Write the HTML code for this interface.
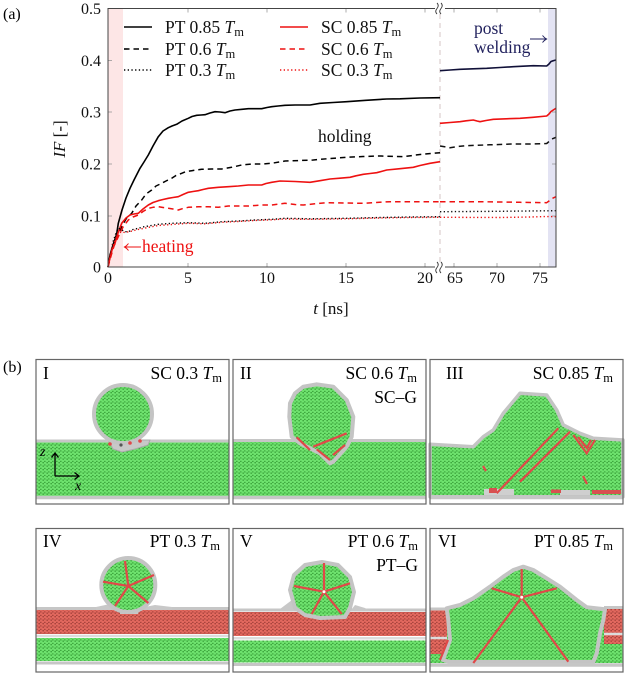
<!DOCTYPE html>
<html><head><meta charset="utf-8"><style>
html,body{margin:0;padding:0;background:#fff;}
svg{display:block;font-family:"Liberation Serif",serif;}
</style></head><body>
<svg width="625" height="675" viewBox="0 0 625 675" xmlns="http://www.w3.org/2000/svg">
<defs>
<pattern id="gp" width="4" height="3.5" patternUnits="userSpaceOnUse">
<rect width="4" height="3.5" fill="#3fa83f"/>
<circle cx="1" cy="0.9" r="1.45" fill="#6ee26e"/>
<circle cx="3" cy="2.65" r="1.45" fill="#6ee26e"/>
</pattern>
<pattern id="rp" width="4" height="3.5" patternUnits="userSpaceOnUse">
<rect width="4" height="3.5" fill="#a9443e"/>
<circle cx="1" cy="0.9" r="1.45" fill="#e2685e"/>
<circle cx="3" cy="2.65" r="1.45" fill="#e2685e"/>
</pattern>
</defs>

<!-- ========== (a) chart ========== -->
<text x="3" y="19" font-size="16">(a)</text>
<rect x="108" y="8.5" width="15" height="258.5" fill="#fde6e6"/>
<rect x="548" y="8.5" width="8" height="258.5" fill="#e3e3f3"/>
<line x1="440" y1="14" x2="440" y2="262" stroke="#d4c6c6" stroke-width="1" stroke-dasharray="5,4"/>

<!-- ticks -->
<g stroke="#999" stroke-width="0.8">
<line x1="188" y1="267" x2="188" y2="263"/><line x1="267" y1="267" x2="267" y2="263"/><line x1="346" y1="267" x2="346" y2="263"/><line x1="425" y1="267" x2="425" y2="263"/>
<line x1="454" y1="267" x2="454" y2="263"/><line x1="497" y1="267" x2="497" y2="263"/><line x1="540" y1="267" x2="540" y2="263"/>
<line x1="188" y1="8.5" x2="188" y2="12.5"/><line x1="267" y1="8.5" x2="267" y2="12.5"/><line x1="346" y1="8.5" x2="346" y2="12.5"/><line x1="425" y1="8.5" x2="425" y2="12.5"/>
<line x1="454" y1="8.5" x2="454" y2="12.5"/><line x1="497" y1="8.5" x2="497" y2="12.5"/><line x1="540" y1="8.5" x2="540" y2="12.5"/>
<line x1="108" y1="216" x2="112" y2="216"/><line x1="108" y1="164" x2="112" y2="164"/><line x1="108" y1="112" x2="112" y2="112"/><line x1="108" y1="60.5" x2="112" y2="60.5"/>
<line x1="556" y1="216" x2="552" y2="216"/><line x1="556" y1="164" x2="552" y2="164"/><line x1="556" y1="112" x2="552" y2="112"/><line x1="556" y1="60.5" x2="552" y2="60.5"/>
</g>

<!-- curves -->
<g fill="none" stroke-linejoin="round" stroke-linecap="butt">
<polyline stroke="#000" stroke-width="1.6" points="108,267 110,255 113,245 116.7,234 118.3,223.3 122,210 126,198 130,188.3 134,180 140,168.3 144,162 148.3,155 153,146 158.3,136.7 163,131 168.3,127.7 172,126 176.7,124.3 182,121 188.3,118.3 192,116.5 196.7,115.3 201,115 205,114.7 210,113 215,111.7 220,112 225,112.7 230,111 235,110 242,109.3 248.3,108.7 255,108.7 261.7,108.7 267,107.5 271.7,106.7 278,106 285,105.3 295,105 310,105 320,103.3 333,102.5 346.7,101.7 366,100.3 386.7,99 400,98.8 420,98 440,97.7"/>
<polyline stroke="#101038" stroke-width="1.6" points="440,70.7 450,70 460,69.3 473,68.8 486.7,68.3 500,67.5 513.3,66.7 523,66.2 533.3,65.7 546.7,66 549,64 551,61.5 554,60.5 556,60"/>
<polyline stroke="#000" stroke-width="1.5" stroke-dasharray="5.5,4" points="108,267 111,252 115,240 121.7,226.7 126,219 131.7,213.3 136,206 141.7,200 146,194 151.7,190 156,186 161.7,183.3 166,181 171.7,178.3 176,175.5 181.7,173.3 186,171.5 191.7,170.7 196,170 201.7,169.3 211.7,169 221.7,169 231.7,167.3 241.7,165 251.7,164 261.7,164 271.7,163.3 285,161 300,160.5 313.3,160 330,158.5 346.7,157.3 363,156.5 380,156 403.3,156.7 420,154.5 440,152.7"/>
<polyline stroke="#111" stroke-width="1.5" stroke-dasharray="5.5,4" points="440,146 450,147.7 458,146.5 466.7,145.7 490,144.8 513.3,144 530,144 546.7,143.5 549,141.5 552,139 556,137.3"/>
<polyline stroke="#ee1111" stroke-width="1.6" points="108,267 110,258 112,250 115,243.3 118,233 121.7,223.3 126,218 130,215 134,214 138.3,213.3 143,209 148.3,205 153,202.5 158.3,200.7 163,199.5 168.3,198.3 173,197.5 178.3,196.7 183,194.5 188.3,192.3 193,191.5 198.3,190.7 203,189.5 208.3,188.3 218.3,187.3 228.3,186.7 238.3,186 248.3,185 255,185 261.7,185 266,183.5 271.7,182.3 280,181 295,181.5 310,182.3 320,180.7 330,179 340,178.2 350,177.3 356,175.8 363.3,174.3 370,173.5 376.7,172.7 386.7,170 400,168.7 413.3,167.3 420,165.5 430,163.3 440,161.7"/>
<polyline stroke="#ee1111" stroke-width="1.6" points="440,123.3 450,122.5 460,121.7 466,120.8 473.3,120 477,121 480,121.7 486,120.5 493.3,119.3 506,118.8 520,118.3 533,117.3 546.7,116 549,114 551,111.5 554,109.5 556,108.3"/>
<polyline stroke="#ee1111" stroke-width="1.5" stroke-dasharray="5.5,4" points="108,267 111,256 114,246 118.3,236.7 123,227 128.3,220 133,217 138.3,215 143,211.5 148.3,208.3 153,207.3 158.3,206.7 163,207.5 168.3,208.3 173,209 178.3,210 183,208.5 188.3,207.3 198.3,206.7 208.3,206.7 218.3,207.3 228.3,206 248.3,206 261.7,205 271.7,205 285,203.3 295,204.5 303.3,205 315,203.8 326.7,202.7 345,203 363.3,203.3 375,202.5 390,201.7 440,201.7"/>
<polyline stroke="#ee1111" stroke-width="1.5" stroke-dasharray="5.5,4" points="440,201.7 480,201.7 500,202 520,202.3 546.7,202.7 549,201 552,198.5 556,196.7"/>
<polyline stroke="#000" stroke-width="1.4" stroke-dasharray="1.3,2.4" points="108,267 110,256 113,242 116,233 118.3,228.3 122,230 125,231.7 128.3,231.7 133,229.5 138.3,228.3 143,227 148.3,226 158.3,224.3 171.7,223.3 188.3,222.7 205,223.3 221.7,221.7 238.3,221 255,220 271.7,219.3 285,218.3 310,218.8 346.7,218.3 380,217.5 410,217 440,216.7"/>
<polyline stroke="#111" stroke-width="1.4" stroke-dasharray="1.3,2.4" points="440,211.7 500,211.3 556,210.7"/>
<polyline stroke="#ee1111" stroke-width="1.4" stroke-dasharray="1.3,2.4" points="108,267 110,257 112,248 115,240 118,234 121,232 125,232.5 130,231.5 138,229.5 148,227.5 158,225.5 172,224.5 188,223.3 205,223.8 222,222.3 238,221.5 255,220.5 272,219.8 285,219 310,219.3 346.7,218.8 380,218 410,217.5 440,217.3"/>
<polyline stroke="#ee1111" stroke-width="1.4" stroke-dasharray="1.3,2.4" points="440,217.3 500,217.5 530,217 546,216.5 556,216.7"/>
</g>

<!-- frame -->
<rect x="108" y="8.5" width="448" height="258.5" fill="none" stroke="#444" stroke-width="1"/>
<rect x="435" y="6" width="10" height="5" fill="#fff"/>
<rect x="435" y="264.5" width="10" height="5" fill="#fff"/>
<g fill="none" stroke="#333" stroke-width="0.9">
<path d="M437,3 q2.5,2.5 0,5.5 q-2.5,3 0,5.5"/><path d="M441,3 q2.5,2.5 0,5.5 q-2.5,3 0,5.5"/>
<path d="M437,262 q2.5,2.5 0,5.5 q-2.5,3 0,5.5"/><path d="M441,262 q2.5,2.5 0,5.5 q-2.5,3 0,5.5"/>
</g>

<!-- tick labels -->
<g font-size="16" fill="#111">
<g text-anchor="end">
<text x="101" y="272.5">0</text><text x="101" y="221.5">0.1</text><text x="101" y="169.5">0.2</text><text x="101" y="117.5">0.3</text><text x="101" y="66">0.4</text><text x="101" y="14">0.5</text>
</g>
<g text-anchor="middle">
<text x="108" y="283">0</text><text x="188" y="283">5</text><text x="267" y="283">10</text><text x="346" y="283">15</text><text x="425" y="283">20</text>
<text x="455" y="283">65</text><text x="497" y="283">70</text><text x="540" y="283">75</text>
</g>
</g>
<text x="331" y="314" font-size="17" text-anchor="middle" fill="#111"><tspan font-style="italic">t</tspan> [ns]</text>
<text transform="translate(65,139) rotate(-90)" font-size="17" text-anchor="middle" fill="#111"><tspan font-style="italic">IF</tspan> [-]</text>

<!-- annotations -->
<g stroke="#ee1111" stroke-width="1" fill="none">
<line x1="125" y1="247" x2="141" y2="247"/>
<path d="M128.5,243.5 Q126.5,246 124.5,247 Q126.5,248 128.5,250.5"/>
</g>
<text x="142" y="252" font-size="17.5" fill="#ee1111">heating</text>
<text x="318" y="142" font-size="17.5" fill="#111">holding</text>
<g fill="#22225e" font-size="17.5">
<text x="474" y="34">post</text>
<text x="474" y="53">welding</text>
</g>
<g stroke="#22225e" stroke-width="1" fill="none">
<line x1="530" y1="39" x2="546" y2="39"/>
<path d="M542.5,35.5 Q544.5,38 546.5,39 Q544.5,40 542.5,42.5"/>
</g>

<!-- legend -->
<g stroke-width="1.6" fill="none">
<line x1="124" y1="27" x2="152" y2="27" stroke="#000"/>
<line x1="124" y1="49" x2="152" y2="49" stroke="#000" stroke-dasharray="5.5,4"/>
<line x1="124" y1="70" x2="152" y2="70" stroke="#000" stroke-width="1.4" stroke-dasharray="1.3,2.4"/>
<line x1="280" y1="27" x2="308" y2="27" stroke="#ee1111"/>
<line x1="280" y1="49" x2="308" y2="49" stroke="#ee1111" stroke-dasharray="5.5,4"/>
<line x1="280" y1="70" x2="308" y2="70" stroke="#ee1111" stroke-width="1.4" stroke-dasharray="1.3,2.4"/>
</g>
<g font-size="17.5" fill="#111">
<text x="165" y="33">PT 0.85 <tspan font-style="italic">T</tspan><tspan font-size="12.5" dy="3">m</tspan></text>
<text x="165" y="55">PT 0.6 <tspan font-style="italic">T</tspan><tspan font-size="12.5" dy="3">m</tspan></text>
<text x="165" y="76">PT 0.3 <tspan font-style="italic">T</tspan><tspan font-size="12.5" dy="3">m</tspan></text>
<text x="321" y="33">SC 0.85 <tspan font-style="italic">T</tspan><tspan font-size="12.5" dy="3">m</tspan></text>
<text x="321" y="55">SC 0.6 <tspan font-style="italic">T</tspan><tspan font-size="12.5" dy="3">m</tspan></text>
<text x="321" y="76">SC 0.3 <tspan font-style="italic">T</tspan><tspan font-size="12.5" dy="3">m</tspan></text>
</g>

<!-- ========== (b) panels ========== -->
<text x="3" y="372" font-size="16">(b)</text>

<!-- Panel I -->
<g>
<rect x="36" y="442" width="193" height="54" fill="url(#gp)"/>
<line x1="36" y1="441" x2="229" y2="441" stroke="#c6c6c6" stroke-width="3"/>
<line x1="36" y1="497.5" x2="229" y2="497.5" stroke="#c6c6c6" stroke-width="3.5"/>
<path d="M108,440 L113,449 L122,452 L135,449 L148,445 L150,440 Z" fill="#c8c8c8" stroke="#aaa" stroke-width="1"/>
<circle cx="123" cy="414" r="29" fill="url(#gp)" stroke="#c4c4c4" stroke-width="4"/>
<circle cx="110" cy="444" r="1.8" fill="#e04848"/><circle cx="130" cy="443" r="1.8" fill="#e04848"/><circle cx="140" cy="441" r="1.8" fill="#e04848"/><circle cx="121" cy="445" r="1.6" fill="#555"/>
<g stroke="#000" stroke-width="1.3" fill="none">
<line x1="55" y1="476" x2="55" y2="454"/><path d="M51.5,457.5 L55,453 L58.5,457.5"/>
<line x1="55" y1="476" x2="78" y2="476"/><path d="M74.5,472.5 L79,476 L74.5,479.5"/>
</g>
<text x="40" y="456" font-size="14" font-style="italic">z</text>
<text x="75" y="490" font-size="14" font-style="italic">x</text>
<text x="43" y="379" font-size="17.5">I</text>
<text x="222" y="379" font-size="17.5" text-anchor="end">SC 0.3 <tspan font-style="italic">T</tspan><tspan font-size="12.5" dy="3">m</tspan></text>
<rect x="36" y="359.5" width="193" height="144.5" fill="none" stroke="#666" stroke-width="1.2"/>
</g>

<!-- Panel II -->
<g>
<rect x="233" y="441" width="193" height="55" fill="url(#gp)"/>
<line x1="233" y1="440.5" x2="426" y2="440.5" stroke="#c6c6c6" stroke-width="3"/>
<line x1="233" y1="497.5" x2="426" y2="497.5" stroke="#c6c6c6" stroke-width="3.5"/>
<polygon points="289.3,416.7 290,403.3 295,393.3 303.3,386.7 316.7,384.3 333.3,386.7 346.7,400 353.3,416.7 351.7,436.7 346.7,446.7 333.3,461.7 330,463.3 320,453.3 310,448.3 300,443.3 291.7,436.7" fill="url(#gp)" stroke="#c4c4c4" stroke-width="4" stroke-linejoin="round"/>
<g stroke="#e04848" stroke-width="2.2" fill="none">
<line x1="296.7" y1="437.3" x2="310" y2="450"/>
<line x1="313.3" y1="446.7" x2="346.7" y2="433.3"/>
<line x1="316.7" y1="449.3" x2="330" y2="460"/>
<line x1="333" y1="455" x2="345" y2="445"/>
</g>
<text x="240" y="379" font-size="17.5">II</text>
<text x="417" y="379" font-size="17.5" text-anchor="end">SC 0.6 <tspan font-style="italic">T</tspan><tspan font-size="12.5" dy="3">m</tspan></text>
<text x="417" y="403" font-size="17.5" text-anchor="end">SC–G</text>
<rect x="233" y="359.5" width="193" height="144.5" fill="none" stroke="#666" stroke-width="1.2"/>
</g>

<!-- Panel III -->
<g>
<polygon points="430,444.3 473.3,446.7 483.3,436.7 493.3,430 503.3,413.3 520,393.3 546.7,395 556.7,410 563.3,425 580,433.3 593.3,438.3 623,440 623,496.7 430,496.7" fill="url(#gp)" stroke="#c4c4c4" stroke-width="3.5" stroke-linejoin="round"/>
<line x1="430" y1="497.5" x2="623" y2="497.5" stroke="#c6c6c6" stroke-width="3.5"/>
<rect x="484" y="489" width="30" height="6" fill="#cfcfcf"/>
<rect x="560" y="490" width="30" height="5" fill="#cfcfcf"/>
<g stroke="#e04848" stroke-width="2.2" fill="none">
<line x1="558.3" y1="428.3" x2="496.7" y2="493.3"/>
<line x1="570" y1="431.7" x2="520" y2="481.7"/>
<polyline points="573.3,435 586.7,453.3 595,440"/>
<polyline points="578,437 587,448 591,440"/>
<line x1="483" y1="466" x2="486" y2="471"/>
<line x1="583" y1="476" x2="587" y2="484"/>
</g>
<rect x="592" y="490" width="29" height="4" fill="#d85050"/>
<rect x="489" y="488" width="8" height="5" fill="#d85050"/>
<rect x="551" y="489.5" width="10" height="3.5" fill="#d85050"/>
<text x="446" y="379" font-size="17.5">III</text>
<text x="613" y="379" font-size="17.5" text-anchor="end">SC 0.85 <tspan font-style="italic">T</tspan><tspan font-size="12.5" dy="3">m</tspan></text>
<rect x="430" y="359.5" width="193" height="144.5" fill="none" stroke="#666" stroke-width="1.2"/>
</g>

<!-- Panel IV -->
<g>
<rect x="36" y="610" width="193" height="24" fill="url(#rp)"/>
<line x1="36" y1="636" x2="229" y2="636" stroke="#dcdcdc" stroke-width="2.5"/>
<rect x="36" y="638" width="193" height="23" fill="url(#gp)"/>
<line x1="36" y1="608.5" x2="229" y2="608.5" stroke="#c6c6c6" stroke-width="3"/>
<line x1="36" y1="663" x2="229" y2="663" stroke="#c6c6c6" stroke-width="3"/>
<path d="M96,607 L110,604 L120,610 L120,614 L138,614 L140,608 L155,605 L172,607 L172,610 L96,610 Z" fill="#c8c8c8"/>
<circle cx="128.3" cy="585" r="27" fill="url(#gp)" stroke="#c4c4c4" stroke-width="4"/>
<g stroke="#e04848" stroke-width="2.2" fill="none">
<line x1="128.3" y1="586" x2="125" y2="561"/>
<line x1="128.3" y1="586" x2="103" y2="581.7"/>
<line x1="128.3" y1="586" x2="115" y2="606"/>
<line x1="128.3" y1="586" x2="148.3" y2="603"/>
<line x1="128.3" y1="586" x2="154" y2="575"/>
</g>
<text x="43" y="547" font-size="17.5">IV</text>
<text x="220" y="547" font-size="17.5" text-anchor="end">PT 0.3 <tspan font-style="italic">T</tspan><tspan font-size="12.5" dy="3">m</tspan></text>
<rect x="36" y="528.5" width="193" height="143.5" fill="none" stroke="#666" stroke-width="1.2"/>
</g>

<!-- Panel V -->
<g>
<rect x="233" y="612" width="193" height="24" fill="url(#rp)"/>
<line x1="233" y1="638.3" x2="426" y2="638.3" stroke="#dcdcdc" stroke-width="2.5"/>
<rect x="233" y="640.5" width="193" height="22" fill="url(#gp)"/>
<line x1="233" y1="610" x2="426" y2="610" stroke="#c6c6c6" stroke-width="3"/>
<line x1="233" y1="664.5" x2="426" y2="664.5" stroke="#c6c6c6" stroke-width="3"/>
<path d="M280,609 L292,600 L300,612 L345,618 L355,605 L365,608 L370,611 L280,611 Z" fill="#c8c8c8"/>
<polygon points="290,590 294,575 305,565 322,562 338,565 350,577 354,592 350,608 345,617 320,618 305,615 295,608" fill="url(#gp)" stroke="#c4c4c4" stroke-width="4" stroke-linejoin="round"/>
<g stroke="#e04848" stroke-width="2.2" fill="none">
<line x1="324" y1="591.7" x2="324" y2="563"/>
<line x1="324" y1="591.7" x2="294" y2="586"/>
<line x1="324" y1="591.7" x2="350" y2="583.3"/>
<line x1="324" y1="591.7" x2="311.7" y2="614"/>
<line x1="324" y1="591.7" x2="341.7" y2="614"/>
</g>
<circle cx="324" cy="591.7" r="1.5" fill="#fff"/>
<text x="240" y="547" font-size="17.5">V</text>
<text x="418" y="547" font-size="17.5" text-anchor="end">PT 0.6 <tspan font-style="italic">T</tspan><tspan font-size="12.5" dy="3">m</tspan></text>
<text x="418" y="571" font-size="17.5" text-anchor="end">PT–G</text>
<rect x="233" y="528.5" width="193" height="143.5" fill="none" stroke="#666" stroke-width="1.2"/>
</g>

<!-- Panel VI -->
<g>
<rect x="430" y="610" width="193" height="53" fill="url(#gp)"/>
<rect x="430" y="610" width="17" height="44" fill="url(#rp)"/>
<line x1="430" y1="638" x2="447" y2="638" stroke="#dcdcdc" stroke-width="2.5"/>
<rect x="604" y="608" width="19" height="36" fill="url(#rp)"/>
<line x1="604" y1="634" x2="623" y2="634" stroke="#dcdcdc" stroke-width="2.5"/>
<line x1="430" y1="609" x2="447" y2="609" stroke="#c6c6c6" stroke-width="3"/>
<line x1="604" y1="607.5" x2="623" y2="607.5" stroke="#c6c6c6" stroke-width="3"/>
<polygon points="446.7,608.3 460,605 473.3,598.3 490,586.7 503.3,576.7 513.3,570 523.3,566.7 533.3,570 546.7,578.3 560,586.7 576.7,600 586.7,607.3 605,609.3 603.3,620 600,633.3 596.7,653.3 593.3,662 450,662 443,660 450,640 448.3,620" fill="url(#gp)" stroke="#c4c4c4" stroke-width="4" stroke-linejoin="round"/>
<line x1="430" y1="665" x2="623" y2="665" stroke="#c6c6c6" stroke-width="3.5"/>
<g stroke="#e04848" stroke-width="2.2" fill="none">
<line x1="521.7" y1="597.3" x2="521.7" y2="569"/>
<line x1="521.7" y1="597.3" x2="491.7" y2="588.3"/>
<line x1="521.7" y1="597.3" x2="556.7" y2="588.3"/>
<line x1="521.7" y1="597.3" x2="473.3" y2="663"/>
<line x1="521.7" y1="597.3" x2="568.3" y2="661.7"/>
<line x1="440" y1="660" x2="448" y2="640"/>
</g>
<circle cx="521.7" cy="597.3" r="1.5" fill="#fff"/>
<text x="438" y="547" font-size="17.5">VI</text>
<text x="613" y="547" font-size="17.5" text-anchor="end">PT 0.85 <tspan font-style="italic">T</tspan><tspan font-size="12.5" dy="3">m</tspan></text>
<rect x="430" y="528.5" width="193" height="143.5" fill="none" stroke="#666" stroke-width="1.2"/>
</g>
</svg>
</body></html>
